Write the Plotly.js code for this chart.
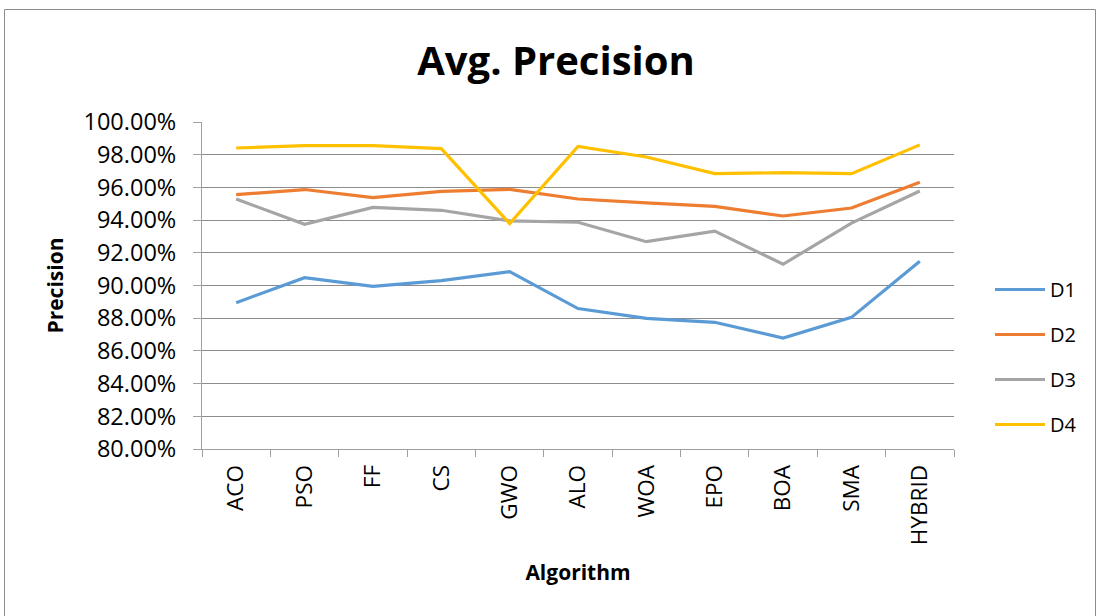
<!DOCTYPE html>
<html>
<head>
<meta charset="utf-8">
<script src="https://cdn.plot.ly/plotly-3.0.1.min.js"></script>
<style>html,body{margin:0;padding:0;background:#fff;}#chart{width:1099px;height:616px;}</style>
</head>
<body>
<div id="chart"></div>
<script>
const categories = ["ACO","PSO","FF","CS","GWO","ALO","WOA","EPO","BOA","SMA","HYBRID"];
const D1 = [88.95, 90.48, 89.95, 90.30, 90.85, 88.59, 87.99, 87.75, 86.79, 88.05, 91.48];
const D2 = [95.56, 95.87, 95.38, 95.76, 95.88, 95.29, 95.05, 94.84, 94.25, 94.74, 96.31];
const D3 = [95.29, 93.74, 94.78, 94.60, 93.95, 93.87, 92.68, 93.33, 91.30, 93.82, 95.78];
const D4 = [98.41, 98.56, 98.56, 98.37, 93.79, 98.51, 97.86, 96.84, 96.90, 96.84, 98.60];
const seriesNames = ["D1","D2","D3","D4"];
const seriesColors = ["#5B9BD5","#ED7D31","#A5A5A5","#FFC000"];

const FONT = "Open Sans, Noto Sans, sans-serif";
const W = 1099, H = 616;
const L = 202, R = 145, T = 122, B = 167;
const pw = W - L - R, ph = H - T - B;
const px2x = p => (p - L) / pw;
const py2y = p => 1 - (p - T) / ph;

const traces = [D1, D2, D3, D4].map((vals, i) => ({
  x: categories, y: vals, type: "scatter", mode: "lines",
  name: seriesNames[i], legendgroup: "g" + i,
  line: {color: seriesColors[i], width: 3.2}
}));

const layout = {
  width: W, height: H,
  margin: {l: L, r: R, t: T, b: B, pad: 0},
  paper_bgcolor: "#fff", plot_bgcolor: "#fff",
  font: {family: FONT, color: "#000"},
  title: {text: "<b>Avg. Precision</b>", font: {family: FONT, size: 40, color: "#000"},
          x: 556 / W, xref: "container", xanchor: "center",
          y: 1 - 61 / H, yref: "container", yanchor: "middle"},
  xaxis: {
    type: "category", range: [-0.5, categories.length - 0.5],
    tickangle: -90, tickson: "boundaries",
    ticks: "outside", ticklen: 7, tickcolor: "#a0a0a0", tickwidth: 1,
    showline: true, linecolor: "#a0a0a0", linewidth: 1,
    showgrid: false, zeroline: false,
    tickfont: {family: FONT, size: 22.5, color: "#000"},
    ticklabelstandoff: 6,
    title: {text: "<b>Algorithm</b>", font: {family: FONT, size: 21, color: "#000"}, standoff: 21}
  },
  yaxis: {
    range: [80, 100], dtick: 2, tick0: 80, tickformat: ".2f", ticksuffix: "%",
    ticks: "outside", ticklen: 8, tickcolor: "#a0a0a0", tickwidth: 1,
    showline: true, linecolor: "#a0a0a0", linewidth: 1,
    showgrid: true, gridcolor: "#8c8c8c", gridwidth: 1, zeroline: false,
    tickfont: {family: FONT, size: 23.5, color: "#000"},
    ticklabelstandoff: 12,
    title: {text: "<b>Precision</b>", font: {family: FONT, size: 21, color: "#000"}, standoff: 14}
  },
  legend: {
    x: px2x(990), xanchor: "left", y: py2y(270), yanchor: "top",
    font: {family: FONT, size: 20, color: "#000"},
    itemwidth: 50,
    tracegroupgap: 16, bgcolor: "rgba(0,0,0,0)", borderwidth: 0
  },
  showlegend: true,
  shapes: [{
    type: "rect", xref: "paper", yref: "paper",
    x0: px2x(4.5), x1: px2x(1095.5), y0: py2y(640), y1: py2y(9.5),
    line: {color: "#8c8c8c", width: 1}, fillcolor: "rgba(0,0,0,0)", layer: "below"
  }]
};

Plotly.newPlot("chart", traces, layout, {displayModeBar: false, staticPlot: true});
</script>
</body>
</html>
